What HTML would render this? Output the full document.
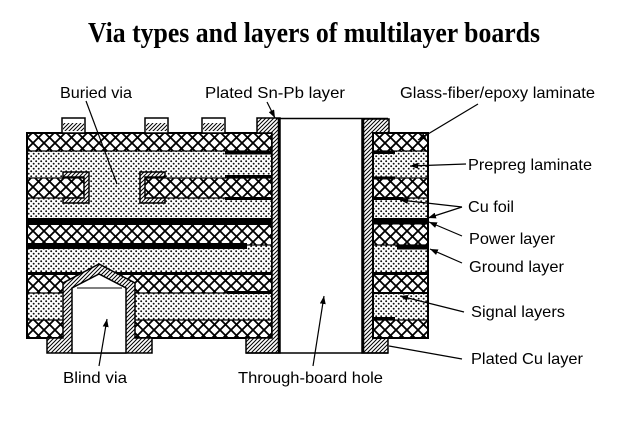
<!DOCTYPE html>
<html><head><meta charset="utf-8"><style>
html,body{margin:0;padding:0;background:#fff;}
svg{display:block;}
</style></head><body>
<svg width="624" height="432" viewBox="0 0 624 432" xmlns="http://www.w3.org/2000/svg">
<defs>
<pattern id="xh" width="11" height="11" patternUnits="userSpaceOnUse"><rect width="11" height="11" fill="#fff"/><path d="M-2,-2L13,13M13,-2L-2,13" stroke="#000" stroke-width="1.8"/></pattern>
<pattern id="dt" width="5" height="5" patternUnits="userSpaceOnUse"><rect width="5" height="5" fill="#fff"/><circle cx="1.2" cy="1.2" r="0.95" fill="#111"/><circle cx="3.7" cy="3.7" r="0.95" fill="#111"/></pattern>
<pattern id="ht" width="4" height="4" patternUnits="userSpaceOnUse"><rect width="4" height="4" fill="#fff"/><path d="M-1,5L5,-1M-1,1L1,-1M3,5L5,3" stroke="#000" stroke-width="1"/></pattern>
<marker id="ar" markerUnits="userSpaceOnUse" markerWidth="8" markerHeight="6" refX="8" refY="3" orient="auto"><path d="M0,0L8,3L0,6z" fill="#000"/></marker>
</defs>
<rect width="624" height="432" fill="#fff"/>

<text x="88" y="42" font-family="Liberation Serif, serif" font-weight="bold" font-size="28" textLength="452" lengthAdjust="spacingAndGlyphs">Via types and layers of multilayer boards</text>

<!-- LEFT BOARD -->
<g>
<rect x="27" y="133" width="245" height="18" fill="url(#xh)"/>
<rect x="27" y="151" width="245" height="27" fill="url(#dt)"/>
<rect x="27" y="178" width="245" height="20" fill="url(#dt)"/>
<rect x="27" y="178" width="57" height="20" fill="url(#xh)"/>
<rect x="145" y="178" width="127" height="20" fill="url(#xh)"/>
<rect x="27" y="198" width="245" height="20" fill="url(#dt)"/>
<rect x="27" y="218" width="245" height="7" fill="#000"/>
<rect x="27" y="225" width="245" height="20" fill="url(#xh)"/>
<rect x="27" y="245" width="245" height="27" fill="url(#dt)"/>
<rect x="27" y="243" width="220" height="6" fill="#000"/>
<rect x="27" y="272" width="245" height="3" fill="#000"/>
<rect x="27" y="275" width="245" height="18" fill="url(#xh)"/>
<rect x="27" y="293" width="245" height="27" fill="url(#dt)"/>
<rect x="27" y="320" width="245" height="18" fill="url(#xh)"/>
<g stroke="#000" stroke-width="1.2">
<line x1="27" y1="151" x2="272" y2="151"/>
<line x1="27" y1="178" x2="84" y2="178"/>
<line x1="145" y1="178" x2="272" y2="178"/>
<line x1="27" y1="198" x2="84" y2="198"/>
<line x1="145" y1="198" x2="272" y2="198"/>
<line x1="247" y1="245" x2="272" y2="245"/>
<line x1="27" y1="293" x2="272" y2="293"/>
<line x1="27" y1="320" x2="272" y2="320"/>
</g>
<rect x="225" y="151" width="47" height="3.5" fill="#000"/>
<rect x="225" y="175" width="47" height="3" fill="#000"/>
<rect x="225" y="197" width="47" height="3" fill="#000"/>
<rect x="227" y="291" width="45" height="3" fill="#000"/>
<rect x="27" y="133" width="245" height="205" fill="none" stroke="#000" stroke-width="2"/>
<path d="M63,172L89,172L89,203L63,203L63,198L84,198L84,177L63,177Z" fill="url(#ht)" stroke="#000" stroke-width="1.5"/>
<path d="M165,172L140,172L140,203L165,203L165,198L145,198L145,177L165,177Z" fill="url(#ht)" stroke="#000" stroke-width="1.5"/>
<g stroke="#000" stroke-width="1.5">
<rect x="62" y="118" width="23" height="15" fill="#fff"/>
<rect x="145" y="118" width="23" height="15" fill="#fff"/>
<rect x="202" y="118" width="23" height="15" fill="#fff"/>
</g>
<rect x="63" y="123" width="21" height="8" fill="url(#ht)"/>
<rect x="146" y="123" width="21" height="8" fill="url(#ht)"/>
<rect x="203" y="123" width="21" height="8" fill="url(#ht)"/>
<path d="M47,338L63,338L63,283L99,264L135,283L135,338L152,338L152,353L47,353Z" fill="url(#ht)" stroke="#000" stroke-width="1.5"/>
<path d="M72,353L72,288L99,274L126,288L126,353Z" fill="#fff" stroke="#000" stroke-width="1.5"/>
<line x1="77" y1="288" x2="122" y2="288" stroke="#000" stroke-width="1"/>
</g>

<!-- THROUGH HOLE PLATING -->
<path d="M257,118L280,118L280,353L246,353L246,338L272,338L272,133L257,133Z" fill="url(#ht)" stroke="#000" stroke-width="1.5"/>
<line x1="279" y1="118" x2="279" y2="353" stroke="#000" stroke-width="2.5"/>
<path d="M362,119L389,119L389,133L373,133L373,338L388,338L388,353L362,353Z" fill="url(#ht)" stroke="#000" stroke-width="1.5"/>
<line x1="363" y1="119" x2="363" y2="353" stroke="#000" stroke-width="2.5"/>
<line x1="276" y1="118.5" x2="388" y2="118.5" stroke="#000" stroke-width="1.5"/>
<line x1="246" y1="353" x2="388" y2="353" stroke="#000" stroke-width="1.5"/>

<!-- RIGHT BOARD -->
<g>
<rect x="373" y="133" width="55" height="18" fill="url(#xh)"/>
<rect x="373" y="151" width="55" height="27" fill="url(#dt)"/>
<rect x="373" y="178" width="55" height="20" fill="url(#xh)"/>
<rect x="373" y="198" width="55" height="20" fill="url(#dt)"/>
<rect x="373" y="218" width="55" height="6.5" fill="#000"/>
<rect x="373" y="224.5" width="55" height="20.5" fill="url(#xh)"/>
<rect x="373" y="245" width="55" height="27" fill="url(#dt)"/>
<rect x="397" y="245" width="31" height="4.5" fill="#000"/>
<rect x="373" y="272" width="55" height="3" fill="#000"/>
<rect x="373" y="275" width="55" height="18" fill="url(#xh)"/>
<rect x="373" y="293" width="55" height="27" fill="url(#dt)"/>
<rect x="373" y="320" width="55" height="18" fill="url(#xh)"/>
<g stroke="#000" stroke-width="1.2">
<line x1="373" y1="151" x2="428" y2="151"/>
<line x1="373" y1="178" x2="428" y2="178"/>
<line x1="373" y1="198" x2="428" y2="198"/>
<line x1="373" y1="245" x2="428" y2="245"/>
<line x1="373" y1="320" x2="428" y2="320"/>
</g>
<rect x="373" y="292" width="55" height="2" fill="#000"/>
<rect x="373" y="150.5" width="22" height="3.5" fill="#000"/>
<rect x="373" y="176.5" width="22" height="3" fill="#000"/>
<rect x="373" y="197" width="30" height="3" fill="#000"/>
<rect x="373" y="317" width="22" height="3" fill="#000"/>
<rect x="373" y="133" width="55" height="205" fill="none" stroke="#000" stroke-width="2"/>
</g>

<!-- LEADERS -->
<g stroke="#000" stroke-width="1.2" fill="none">
<line x1="86" y1="101" x2="117" y2="184"/>
<line x1="267" y1="102" x2="275" y2="118" marker-end="url(#ar)"/>
<line x1="478" y1="104" x2="418" y2="140" marker-end="url(#ar)"/>
<line x1="466" y1="164" x2="410" y2="166" marker-end="url(#ar)"/>
<line x1="462" y1="207" x2="400" y2="200" marker-end="url(#ar)"/>
<line x1="462" y1="207" x2="428" y2="218" marker-end="url(#ar)"/>
<line x1="462" y1="236" x2="429" y2="222" marker-end="url(#ar)"/>
<line x1="462" y1="263" x2="430" y2="249" marker-end="url(#ar)"/>
<line x1="464" y1="312" x2="400" y2="296" marker-end="url(#ar)"/>
<line x1="462" y1="359" x2="389" y2="346"/>
<line x1="99" y1="366" x2="107" y2="319" marker-end="url(#ar)"/>
<line x1="313" y1="366" x2="324" y2="296" marker-end="url(#ar)"/>
</g>

<!-- LABELS -->
<g font-family="Liberation Sans, Arial, sans-serif" font-size="16" fill="#000">
<text x="60" y="98" textLength="72" lengthAdjust="spacingAndGlyphs">Buried via</text>
<text x="205" y="98" textLength="140" lengthAdjust="spacingAndGlyphs">Plated Sn-Pb layer</text>
<text x="400" y="98" textLength="195" lengthAdjust="spacingAndGlyphs">Glass-fiber/epoxy laminate</text>
<text x="468" y="170" textLength="124" lengthAdjust="spacingAndGlyphs">Prepreg laminate</text>
<text x="468" y="212" textLength="46" lengthAdjust="spacingAndGlyphs">Cu foil</text>
<text x="469" y="244" textLength="86" lengthAdjust="spacingAndGlyphs">Power layer</text>
<text x="469" y="272" textLength="95" lengthAdjust="spacingAndGlyphs">Ground layer</text>
<text x="471" y="317" textLength="94" lengthAdjust="spacingAndGlyphs">Signal layers</text>
<text x="471" y="364" textLength="112" lengthAdjust="spacingAndGlyphs">Plated Cu layer</text>
<text x="63" y="383" textLength="64" lengthAdjust="spacingAndGlyphs">Blind via</text>
<text x="238" y="383" textLength="145" lengthAdjust="spacingAndGlyphs">Through-board hole</text>
</g>
</svg>
</body></html>
